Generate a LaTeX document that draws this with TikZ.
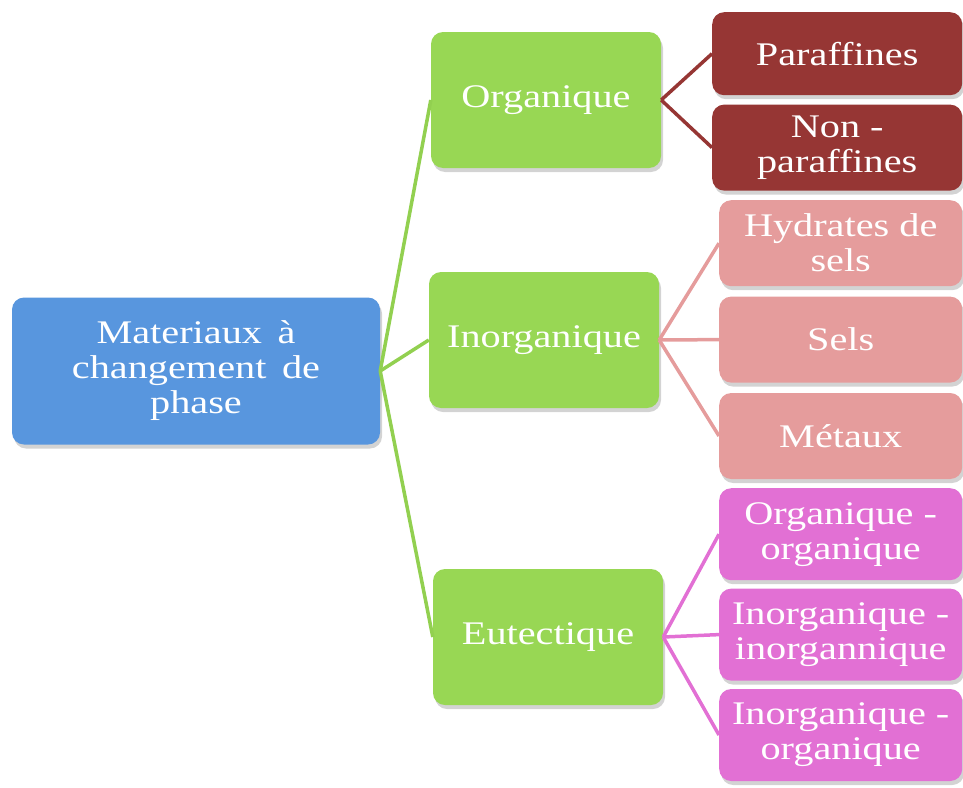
\documentclass[tikz,border=0pt]{standalone}
\usepackage{fontspec}
\setmainfont[FakeStretch=1.22]{Liberation Serif}
\usepackage{tikz}
\usetikzlibrary{positioning, shadows}
\definecolor{rootblue}{RGB}{88,150,222}
\definecolor{catgreen}{RGB}{152,215,84}
\definecolor{lingreen}{RGB}{146,208,80}
\definecolor{parred}{RGB}{150,54,52}
\definecolor{selpink}{RGB}{229,156,156}
\definecolor{eutmag}{RGB}{226,112,212}

\begin{document}
\begin{tikzpicture}[
    x=1pt, y=1pt,
    node distance=9pt,
    card/.style={rectangle, rounded corners=12pt, text=white, align=center,
                 font=\fontsize{33}{35}\selectfont, inner sep=2pt,
                 drop shadow={shadow xshift=2pt, shadow yshift=-4pt, opacity=0.35}},
    rootbox/.style={card, fill=rootblue, minimum width=368pt, minimum height=147pt},
    catbox/.style={card, fill=catgreen, minimum width=230pt, minimum height=136pt},
    leafbox/.style={card, minimum width=250pt, minimum height=86pt},
    link/.style={line width=3.5pt, #1}
  ]
    \useasboundingbox (0,-787) rectangle (963,0);
    \node[rootbox] (pcm) at (196,-371) {Materiaux \,à\\changement \,de\\phase};
    \node[catbox] (org)   at (546,-100) {Organique};
    \node[catbox] (inorg) at (544,-340) {Inorganique};
    \node[catbox] (eut)   at (548,-637) {Eutectique};
    % organique
    \node[leafbox, fill=parred, anchor=north west, minimum height=83pt] (par) at (712,-12) {Paraffines};
    \node[leafbox, fill=parred, below=of par] (npar) {Non -\\paraffines};
    % inorganique
    \node[leafbox, fill=selpink, anchor=north west, minimum width=243pt] (hyd) at (719,-200) {Hydrates de\\sels};
    \node[leafbox, fill=selpink, minimum width=243pt, below=10pt of hyd] (sels) {Sels};
    \node[leafbox, fill=selpink, minimum width=243pt, below=10pt of sels] (met) {Métaux};
    % eutectique
    \node[leafbox, fill=eutmag, anchor=north west, minimum width=243pt, minimum height=92pt] (oo) at (719,-488) {Organique -\\organique};
    \node[leafbox, fill=eutmag, minimum width=243pt, minimum height=92pt, below=8pt of oo] (ii) {Inorganique -\\inorgannique};
    \node[leafbox, fill=eutmag, minimum width=243pt, minimum height=92pt, below=8pt of ii] (io) {Inorganique -\\organique};
    \draw[link=lingreen] (pcm.east)--(org.west); \draw[link=lingreen] (pcm.east)--(inorg.west);
    \draw[link=lingreen] (pcm.east)--(eut.west);
    \draw[link=parred] (org.east)--(par.west); \draw[link=parred] (org.east)--(npar.west);
    \draw[link=selpink] (inorg.east)--(hyd.west); \draw[link=selpink] (inorg.east)--(sels.west);
    \draw[link=selpink] (inorg.east)--(met.west);
    \draw[link=eutmag] (eut.east)--(oo.west); \draw[link=eutmag] (eut.east)--(ii.west);
    \draw[link=eutmag] (eut.east)--(io.west);
  \end{tikzpicture}
\end{document}
